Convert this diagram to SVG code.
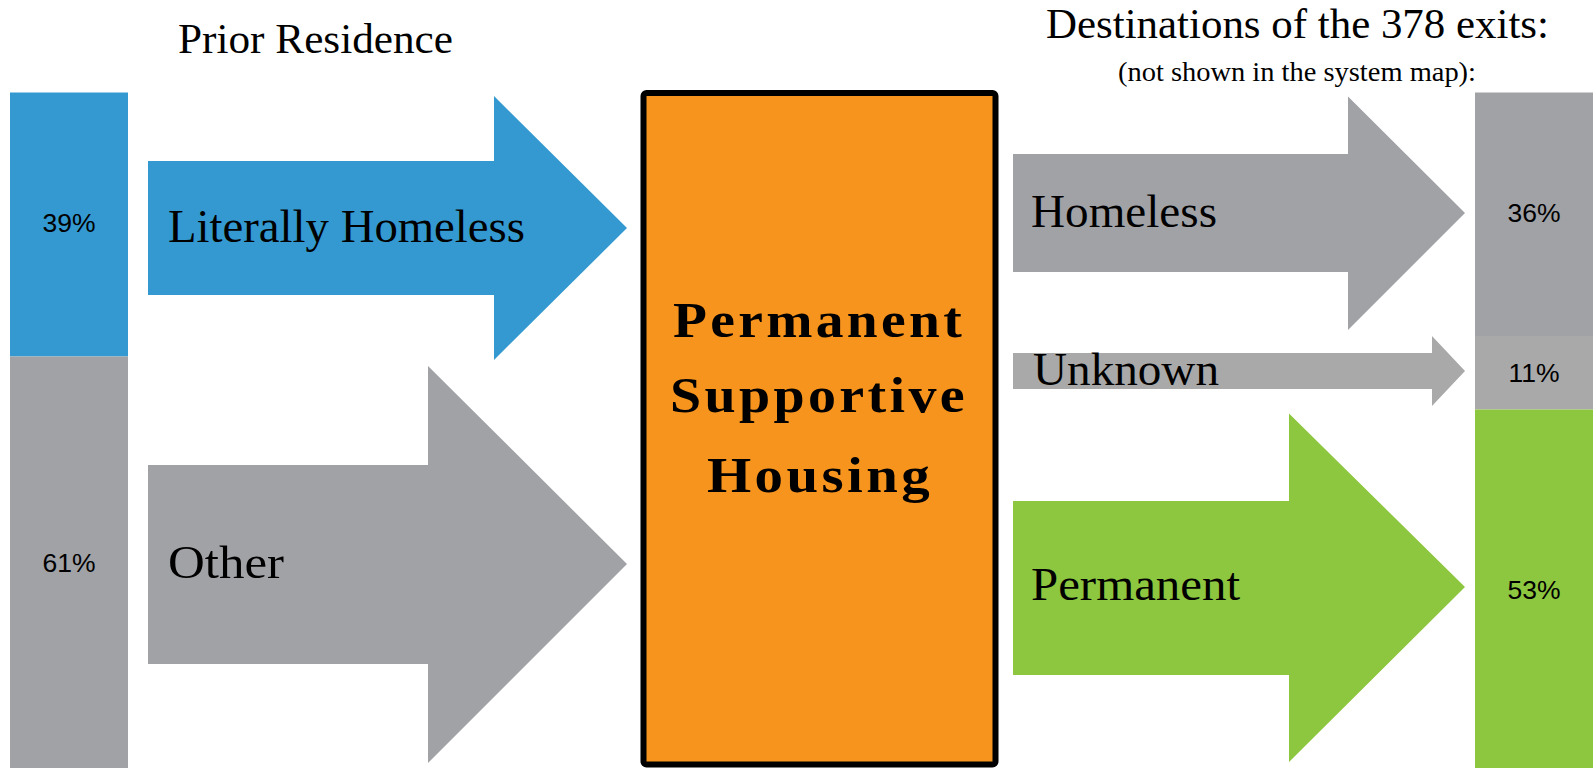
<svg xmlns="http://www.w3.org/2000/svg" width="1593" height="768" viewBox="0 0 1593 768">
  <style>
    .hdr { font-family: "Liberation Serif", "Times New Roman", serif; fill: #000; text-anchor: middle; }
    .lbl { font-family: "Liberation Serif", "Times New Roman", serif; font-size: 47px; fill: #000; }
    .pct { font-family: "Liberation Sans", Arial, sans-serif; font-size: 26.5px; fill: #000; text-anchor: middle; }
    .ctr { font-family: "Liberation Serif", "Times New Roman", serif; font-size: 50px; font-weight: bold; fill: #000; text-anchor: middle; }
    .blue { fill: #3399d0; }
    .gray { fill: #a1a2a6; }
    .lgray { fill: #a9a9a9; }
    .green { fill: #8dc63f; }
  </style>
  <rect width="1593" height="768" fill="#ffffff"/>

  <g id="header-prior">
    <text class="hdr" x="315.5" y="53" font-size="42" textLength="275" lengthAdjust="spacingAndGlyphs">Prior Residence</text>
  </g>
  <g id="header-destinations">
    <text class="hdr" x="1297.5" y="37.5" font-size="42" textLength="503" lengthAdjust="spacingAndGlyphs">Destinations of the 378 exits:</text>
    <text class="hdr" x="1297" y="81" font-size="28" textLength="358" lengthAdjust="spacingAndGlyphs">(not shown in the system map):</text>
  </g>

  <g id="prior-bar">
    <rect class="blue" x="10" y="92.5" width="118" height="264"/>
    <rect class="gray" x="10" y="356.5" width="118" height="412"/>
    <text class="pct" x="69" y="232">39%</text>
    <text class="pct" x="69" y="572">61%</text>
  </g>

  <g id="psh">
    <rect x="643.5" y="93" width="352" height="671.5" rx="3" fill="#f7941e" stroke="#000" stroke-width="6"/>
    <text class="ctr" x="819" y="336.5" textLength="292" lengthAdjust="spacingAndGlyphs" letter-spacing="3">Permanent</text>
    <text class="ctr" x="819" y="411.5" textLength="298" lengthAdjust="spacingAndGlyphs" letter-spacing="3">Supportive</text>
    <text class="ctr" x="820" y="491.5" textLength="226" lengthAdjust="spacingAndGlyphs" letter-spacing="3">Housing</text>
  </g>

  <g id="destination-bar">
    <rect class="gray" x="1475" y="92.5" width="118" height="243.5"/>
    <rect class="lgray" x="1475" y="336" width="118" height="73.5"/>
    <rect class="green" x="1475" y="409.5" width="118" height="358.5"/>
    <text class="pct" x="1534" y="222">36%</text>
    <text class="pct" x="1534" y="382">11%</text>
    <text class="pct" x="1534" y="598.5">53%</text>
  </g>

  <g id="connectors">
    <g id="arrow-literally-homeless">
      <polygon class="blue" points="148,161 494,161 494,96 627,228 494,360 494,295 148,295"/>
      <text class="lbl" x="168" y="241.5" textLength="357" lengthAdjust="spacingAndGlyphs">Literally Homeless</text>
    </g>
    <g id="arrow-other">
      <polygon class="gray" points="148,465 428,465 428,366 627,564 428,763 428,664 148,664"/>
      <text class="lbl" x="168" y="577.5" textLength="116" lengthAdjust="spacingAndGlyphs">Other</text>
    </g>
    <g id="arrow-homeless">
      <polygon class="gray" points="1013,154 1348,154 1348,96.5 1465,213 1348,330 1348,272 1013,272"/>
      <text class="lbl" x="1031" y="227" textLength="186" lengthAdjust="spacingAndGlyphs">Homeless</text>
    </g>
    <g id="arrow-unknown">
      <polygon class="lgray" points="1013,353 1432,353 1432,336 1465,371 1432,406 1432,389 1013,389"/>
      <text class="lbl" x="1033" y="385" textLength="186" lengthAdjust="spacingAndGlyphs">Unknown</text>
    </g>
    <g id="arrow-permanent">
      <polygon class="green" points="1013,501 1289,501 1289,413.5 1465,587 1289,762 1289,675 1013,675"/>
      <text class="lbl" x="1031" y="600" textLength="209" lengthAdjust="spacingAndGlyphs">Permanent</text>
    </g>
  </g>
</svg>
